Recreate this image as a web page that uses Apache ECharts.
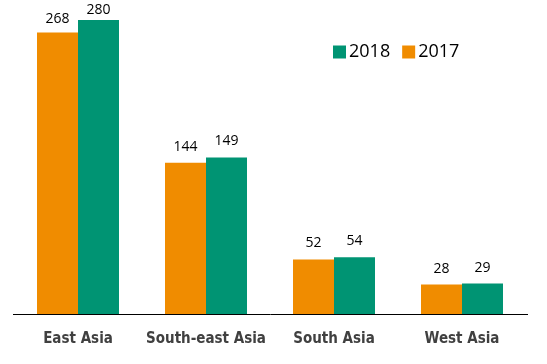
<!DOCTYPE html>
<html><head><meta charset="utf-8">
<script src="https://cdn.jsdelivr.net/npm/echarts@6/dist/echarts.min.js"></script>
<style>html,body{margin:0;padding:0;background:#fff}#c{width:547px;height:364px}</style>
</head><body><div id="c"></div>
<script>
const categories = ['East Asia', 'South-east Asia', 'South Asia', 'West Asia'];
const values2017 = [268, 144, 52, 28];
const values2018 = [280, 149, 54, 29];
const seriesNames = ['2017', '2018'];

const chart = echarts.init(document.getElementById('c'));
const labelStyle = {show: true, position: 'top', distance: 9, color: '#000', fontSize: 14, fontFamily: 'Open Sans'};
chart.setOption({
  animation: false,
  grid: {left: 14, right: 21, top: 1, bottom: 50},
  legend: {
    data: [seriesNames[1], seriesNames[0]],
    left: 328, top: 38, itemWidth: 13, itemHeight: 13, itemGap: 12,
    icon: 'rect',
    textStyle: {fontSize: 18, color: '#000', fontFamily: 'Open Sans', padding: [0,0,0,-2]}
  },
  xAxis: {
    type: 'category', data: categories,
    axisLine: {show: false}, axisTick: {show: false},
    axisLabel: {interval: 0, margin: 18, fontSize: 15, fontWeight: 'bold', color: '#404040', fontFamily: "'DejaVu Sans Condensed', Roboto"}
  },
  yAxis: {type: 'value', min: 0, max: 298, show: false, splitLine: {show: false}},
  graphic: [{type: 'line', shape: {x1: 13, y1: 314.5, x2: 528, y2: 314.5}, style: {stroke: '#000', lineWidth: 1}}],
  series: [
    {name: seriesNames[0], type: 'bar', data: values2017.map((v, i) => i === 0 ? {value: v, label: {distance: 6}} : v), barWidth: 41, barGap: '0%', itemStyle: {color: '#F08C00'}, label: labelStyle},
    {name: seriesNames[1], type: 'bar', data: values2018.map((v, i) => i === 0 ? {value: v, label: {distance: 3}} : v), barWidth: 41, barGap: '0%', itemStyle: {color: '#009473'}, label: labelStyle}
  ]
});
</script></body></html>
